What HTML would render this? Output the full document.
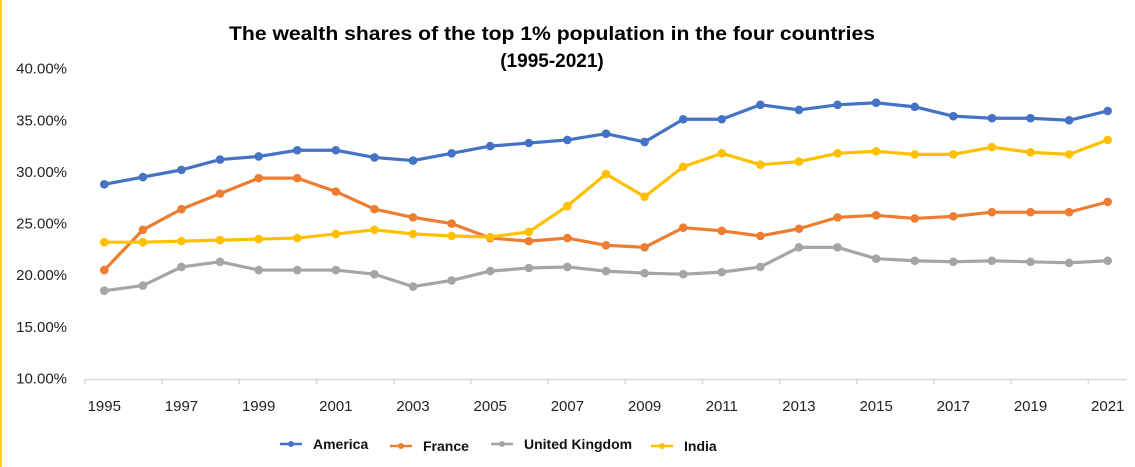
<!DOCTYPE html>
<html><head><meta charset="utf-8"><style>
html,body{margin:0;padding:0;background:#fff;}
svg{display:block;font-family:"Liberation Sans","Noto Sans CJK SC",sans-serif;}
</style></head><body>
<svg id="chart" width="1135" height="467" viewBox="0 0 1135 467">
<rect x="0" y="0" width="1135" height="467" fill="#fff"/>
<rect x="0" y="0" width="2" height="467" fill="#FFD700"/>
<text x="552" y="40" text-anchor="middle" font-size="19" font-weight="bold" textLength="646" lengthAdjust="spacingAndGlyphs">The wealth shares of the top 1% population in the four countries</text>
<text x="552" y="67" text-anchor="middle" font-size="19" font-weight="bold">(1995-2021)</text>
<g id="axes"></g><g id="series"></g><g id="legend"></g>
</svg>
<script>
const years = [1995,1996,1997,1998,1999,2000,2001,2002,2003,2004,2005,2006,2007,2008,2009,2010,2011,2012,2013,2014,2015,2016,2017,2018,2019,2020,2021];
const america = [28.7,29.4,30.1,31.1,31.4,32.0,32.0,31.3,31.0,31.7,32.4,32.7,33.0,33.6,32.8,35.0,35.0,36.4,35.9,36.4,36.6,36.2,35.3,35.1,35.1,34.9,35.8];
const france = [20.4,24.3,26.3,27.8,29.3,29.3,28.0,26.3,25.5,24.9,23.5,23.2,23.5,22.8,22.6,24.5,24.2,23.7,24.4,25.5,25.7,25.4,25.6,26.0,26.0,26.0,27.0];
const uk = [18.4,18.9,20.7,21.2,20.4,20.4,20.4,20.0,18.8,19.4,20.3,20.6,20.7,20.3,20.1,20.0,20.2,20.7,22.6,22.6,21.5,21.3,21.2,21.3,21.2,21.1,21.3];
const india = [23.1,23.1,23.2,23.3,23.4,23.5,23.9,24.3,23.9,23.7,23.6,24.1,26.6,29.7,27.5,30.4,31.7,30.6,30.9,31.7,31.9,31.6,31.6,32.3,31.8,31.6,33.0];
const yTicks = [10,15,20,25,30,35,40];
const seriesNames = ["America","France","United Kingdom","India"];
const seriesColors = ["#4472C4","#ED7D31","#A5A5A5","#FFC000"];

const NS="http://www.w3.org/2000/svg";
const X0=85, X1=1127, Y0=377.5, Ypx=10.33;
const band=(X1-X0)/years.length;
const xs=i=>X0+band*(i+0.5);
const ys=v=>Y0-(v-10)*Ypx;
function mk(tag,attrs,parent){const e=document.createElementNS(NS,tag);for(const k in attrs)e.setAttribute(k,attrs[k]);parent.appendChild(e);return e;}
const axes=document.getElementById('axes');
yTicks.forEach(t=>{
  const tx=mk('text',{x:67,y:ys(t)+6,'text-anchor':'end','font-size':'15',fill:'#222'},axes);
  tx.textContent=t.toFixed(2)+'%';
  
  
});
const ax=mk('line',{x1:X0,x2:X1,y1:379.5,y2:379.5,stroke:'#D9D9D9','stroke-width':'1.5'},axes);


for(let i=0;i<=years.length;i+=2){
  const x=X0+band*i;
  const tk=mk('line',{x1:x,x2:x,y1:379.5,y2:384.5,stroke:'#D9D9D9','stroke-width':'1.5'},axes);
  
  
}
years.forEach((y,i)=>{
  if(i%2) return;
  const tx=mk('text',{x:xs(i),y:411,'text-anchor':'middle','font-size':'15',fill:'#222'},axes);
  tx.textContent=y;
  
  
});
const sg=document.getElementById('series');
[america,france,uk,india].forEach((arr,si)=>{
  const g=mk('g',{},sg);
  
  
  const pl=mk('polyline',{points:arr.map((v,i)=>xs(i)+','+ys(v)).join(' '),fill:'none',stroke:seriesColors[si],'stroke-width':'3.2','stroke-linejoin':'round'},g);
  
  
  arr.forEach((v,i)=>{
    const c=mk('circle',{cx:xs(i),cy:ys(v),r:4.3,fill:seriesColors[si]},g);
    
    
  });
});
const lg=document.getElementById('legend');
const lx=[280,390,491,651];
seriesNames.forEach((n,si)=>{
  const g=mk('g',{},lg);
  
  
  const x=lx[si], y=444+(si%2?2:0);
  mk('line',{x1:x,x2:x+22,y1:y,y2:y,stroke:seriesColors[si],'stroke-width':'2.5'},g);
  mk('circle',{cx:x+11,cy:y,r:3,fill:seriesColors[si]},g);
  const t=mk('text',{x:x+33,y:y+5,'font-size':'14','font-weight':'bold',fill:'#111'},g);
  t.textContent=n;
});
</script>
</body></html>
